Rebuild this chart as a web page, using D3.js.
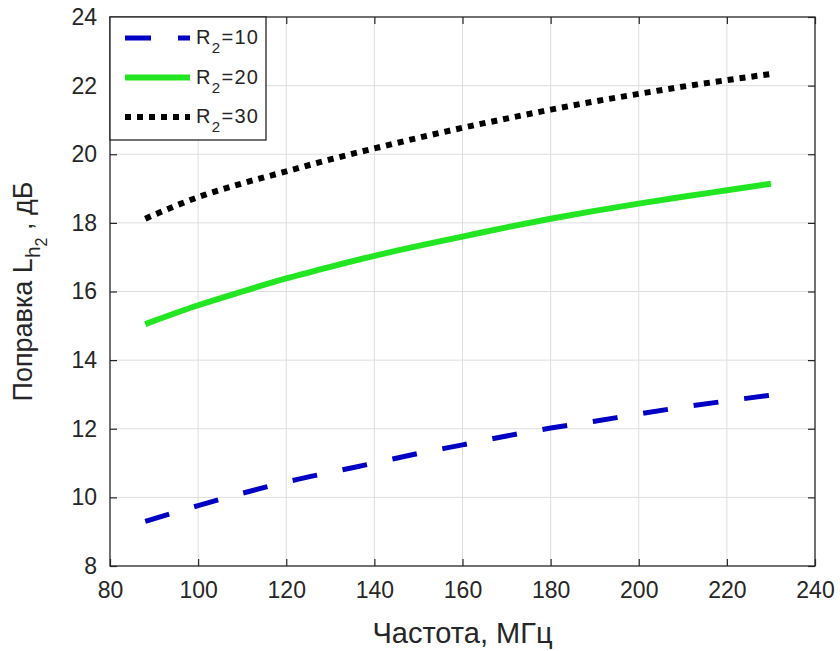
<!DOCTYPE html>
<html>
<head>
<meta charset="utf-8">
<script src="https://cdn.jsdelivr.net/npm/d3@7"></script>
<style>
  body { margin: 0; background: #fff; }
  svg { font-family: "Liberation Sans", Arial, sans-serif; }
</style>
</head>
<body>
<div id="chart"></div>
<script>
// Data
var freq = [88, 100, 110, 120, 130, 140, 150, 160, 170, 180, 190, 200, 210, 220, 230];
var r10 = [9.3, 9.76, 10.12, 10.45, 10.73, 11.0, 11.28, 11.53, 11.79, 12.02, 12.22, 12.43, 12.63, 12.81, 12.98];
var r20 = [15.05, 15.6, 16.0, 16.38, 16.72, 17.04, 17.33, 17.6, 17.87, 18.12, 18.35, 18.56, 18.76, 18.95, 19.14];
var r30 = [18.12, 18.75, 19.15, 19.5, 19.85, 20.17, 20.48, 20.77, 21.04, 21.3, 21.54, 21.76, 21.97, 22.16, 22.34];
var seriesNames = ["10", "20", "30"];
var xTicks = [80, 100, 120, 140, 160, 180, 200, 220, 240];
var yTicks = [8, 10, 12, 14, 16, 18, 20, 22, 24];

var W = 840, H = 651;
var margin = {left: 110, right: 25, top: 17, bottom: 85};
var w = W - margin.left - margin.right,
    h = H - margin.top - margin.bottom;

var svg = d3.select("#chart").append("svg")
  .attr("width", W)
  .attr("height", H);

var g = svg.append("g")
  .attr("transform", "translate(" + margin.left + "," + margin.top + ")");

var x = d3.scaleLinear().domain([80, 240]).range([0, w]);
var y = d3.scaleLinear().domain([8, 24]).range([h, 0]);

// grid
g.append("g").selectAll("line").data(xTicks.slice(1, -1)).enter().append("line")
  .attr("x1", d => x(d)).attr("x2", d => x(d))
  .attr("y1", 0).attr("y2", h)
  .attr("stroke", "#dedede").attr("stroke-width", 1);
g.append("g").selectAll("line").data(yTicks.slice(1, -1)).enter().append("line")
  .attr("y1", d => y(d)).attr("y2", d => y(d))
  .attr("x1", 0).attr("x2", w)
  .attr("stroke", "#dedede").attr("stroke-width", 1);

// axes (ticks inward, box on)
var axisColor = "#262626";
function styleAxis(sel) {
  sel.select(".domain").remove();
  sel.selectAll(".tick line").attr("stroke", axisColor).attr("stroke-width", 1.2);
  sel.selectAll(".tick text").attr("fill", "#262626").attr("font-size", 23)
    .attr("font-family", "Liberation Sans, Arial, sans-serif");
}
g.append("g").attr("transform", "translate(0," + h + ")")
  .call(d3.axisBottom(x).tickValues(xTicks).tickSize(-7).tickPadding(16))
  .call(styleAxis);
g.append("g")
  .call(d3.axisTop(x).tickValues(xTicks).tickSize(-7).tickFormat(""))
  .call(styleAxis);
g.append("g")
  .call(d3.axisLeft(y).tickValues(yTicks).tickSize(-7).tickPadding(13))
  .call(styleAxis);
g.append("g").attr("transform", "translate(" + w + ",0)")
  .call(d3.axisRight(y).tickValues(yTicks).tickSize(-7).tickFormat(""))
  .call(styleAxis);

g.append("rect")
  .attr("width", w).attr("height", h)
  .attr("fill", "none").attr("stroke", axisColor).attr("stroke-width", 1.3);

// lines
var line = d3.line()
  .x(d => x(d[0]))
  .y(d => y(d[1]))
  .curve(d3.curveMonotoneX);

var styles = [
  {vals: r10, color: "#0000c4", width: 5, dash: "25,26"},
  {vals: r20, color: "#22e622", width: 6, dash: null},
  {vals: r30, color: "#000000", width: 6, dash: "6,6"}
];

styles.forEach(function(s) {
  g.append("path")
    .datum(freq.map((f, i) => [f, s.vals[i]]))
    .attr("d", line)
    .attr("fill", "none")
    .attr("stroke", s.color)
    .attr("stroke-width", s.width)
    .attr("stroke-dasharray", s.dash);
});

// legend
var leg = svg.append("g").attr("transform", "translate(110,17)");
leg.append("rect")
  .attr("width", 156).attr("height", 123)
  .attr("fill", "#fff").attr("stroke", axisColor).attr("stroke-width", 1.3);

var legY = [21, 60.5, 100];
var legendDash = ["26,27", null, "6,6"];
styles.forEach(function(s, i) {
  leg.append("line")
    .attr("x1", 15).attr("x2", 80)
    .attr("y1", legY[i]).attr("y2", legY[i])
    .attr("stroke", s.color)
    .attr("stroke-width", s.width)
    .attr("stroke-dasharray", legendDash[i]);
  var t = leg.append("text")
    .attr("x", 86).attr("y", legY[i] + 6)
    .attr("font-size", 20).attr("letter-spacing", 1.3).attr("fill", "#262626");
  t.append("tspan").text("R");
  t.append("tspan").attr("font-size", 15).attr("dy", 9).text("2");
  t.append("tspan").attr("dy", -9).text("=" + seriesNames[i]);
});

// axis labels
svg.append("text")
  .attr("x", margin.left + w / 2).attr("y", 643)
  .attr("text-anchor", "middle")
  .attr("font-size", 29).attr("fill", "#262626")
  .text("Частота, МГц");

var yl = svg.append("text")
  .attr("transform", "translate(32," + (margin.top + h / 2) + ") rotate(-90)")
  .attr("text-anchor", "middle")
  .attr("font-size", 27).attr("fill", "#262626");
yl.append("tspan").text("Поправка L");
yl.append("tspan").attr("font-size", 21).attr("dy", 8).text("h");
yl.append("tspan").attr("font-size", 16).attr("dy", 7).text("2");
yl.append("tspan").attr("dy", -15).text(" , дБ");
</script>
</body>
</html>
